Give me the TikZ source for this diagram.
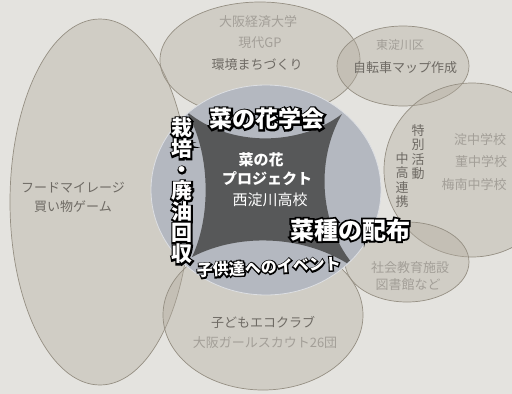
\documentclass[tikz,border=0pt]{standalone}
\usepackage{fontspec}
\newfontfamily\jp{Noto Sans CJK JP}
\newfontfamily\jpo{Noto Sans CJK JP}[BoldFeatures={FakeBold=15}]
\usetikzlibrary{calc}
\definecolor{bg}{HTML}{E4E3DF}
\definecolor{ellf}{HTML}{B3AC9F}
\definecolor{elld}{HTML}{958F83}
\definecolor{cbl}{HTML}{B4B8C0}
\definecolor{dk}{HTML}{575859}
\definecolor{tl}{HTML}{A39F98}
\definecolor{td}{HTML}{6E6A64}
\newcommand\outlined[5]{% #1 name, #2 position, #3 size, #4 extra options, #5 text
  \node[inner sep=0,align=center,font=\jpo\bfseries\fontsize{#3}{#3}\selectfont,text=black,#4] (#1-o) at (#2) {#5};
  \node[inner sep=0,align=center,font=\jp\bfseries\fontsize{#3}{#3}\selectfont,text=white,#4] (#1) at (#2) {#5};
}
\begin{document}
\begin{tikzpicture}[x=1pt,y=-1pt,
  ell/.style={fill=ellf,fill opacity=0.4,draw=elld,line width=0.7pt},
  lt/.style={text=tl,inner sep=0,font=\jp\fontsize{13}{14.5}\selectfont,align=center},
  dt/.style={text=td,inner sep=0,font=\jp\fontsize{13}{14.5}\selectfont,align=center},
  big/.style={inner sep=0,font=\jp\bfseries\fontsize{#1}{#1}\selectfont,align=center}]
\fill[bg] (0,0) rectangle (512,394);
\useasboundingbox (0,0) rectangle (512,394);
% surrounding ellipses
\draw[ell] (100,202) ellipse [x radius=90,y radius=183];
\draw[ell] (260,60) ellipse [x radius=100,y radius=58];
\draw[ell] (403,66) ellipse [x radius=66,y radius=40];
\draw[ell] (472,170) ellipse [x radius=88,y radius=87];
\draw[ell] (407,262) ellipse [x radius=62,y radius=40];
\draw[ell] (263,315) ellipse [x radius=100,y radius=75];
% central circle
\fill[cbl] (266,190) ellipse [x radius=115,y radius=105];
\begin{scope}
\clip (266,190) ellipse [x radius=114,y radius=104];
\fill[dk] (186,111) .. controls (230,148) and (300,146) .. (342,114)
  .. controls (315,160) and (318,230) .. (360,272)
  .. controls (310,234) and (240,232) .. (192,257)
  .. controls (212,215) and (210,150) .. (186,111) -- cycle;
\end{scope}
\draw[white!55!cbl,line width=0.8pt] (266,190) ellipse [x radius=115,y radius=105];
% outer texts
\node[lt] (osaka) at (258,22) {大阪経済大学};
\node[lt] (gp) at (260,43) {現代GP};
\node[dt] (machi) at (257,65) {環境まちづくり};
\node[lt,font=\jp\fontsize{12}{13}\selectfont] (higashi) at (400,45) {東淀川区};
\node[dt] (bike) at (405,68) {自転車マップ作成};
\node[dt] (toku) at (418,152) {特\\別\\活\\動};
\node[dt] (chuko) at (402,180) {中\\高\\連\\携};
\node[lt] (s1) at (480,140) {淀中学校};
\node[lt] (s2) at (481,162) {菫中学校};
\node[lt] (s3) at (474,185) {梅南中学校};
\node[dt] (food) at (73,188) {フードマイレージ};
\node[dt] (kaimono) at (73,207) {買い物ゲーム};
\node[dt] (eco) at (263,322) {子どもエコクラブ};
\node[lt] (girl) at (265,343) {大阪ガールスカウト26団};
\node[lt] (shakai) at (410,268) {社会教育施設};
\node[lt] (tosho) at (408,285) {図書館など};
% centre texts
\node[big=15,text=white] (nano) at (261,160) {菜の花};
\node[big=15,text=white] (proj) at (267,179) {プロジェクト};
\node[inner sep=0,font=\jp\fontsize{15}{15}\selectfont,text=white] (school) at (270,200) {西淀川高校};
% outlined labels
\outlined{gakkai}{267,119}{23}{}{菜の花学会}
\outlined{saibai}{182,191}{21}{}{栽\\培\\・\\廃\\油\\回\\収}
\outlined{natane}{350,230}{24}{}{菜種の配布}
\outlined{event}{269,267}{16}{rotate=3}{子供達へのイベント}
\end{tikzpicture}
\end{document}
